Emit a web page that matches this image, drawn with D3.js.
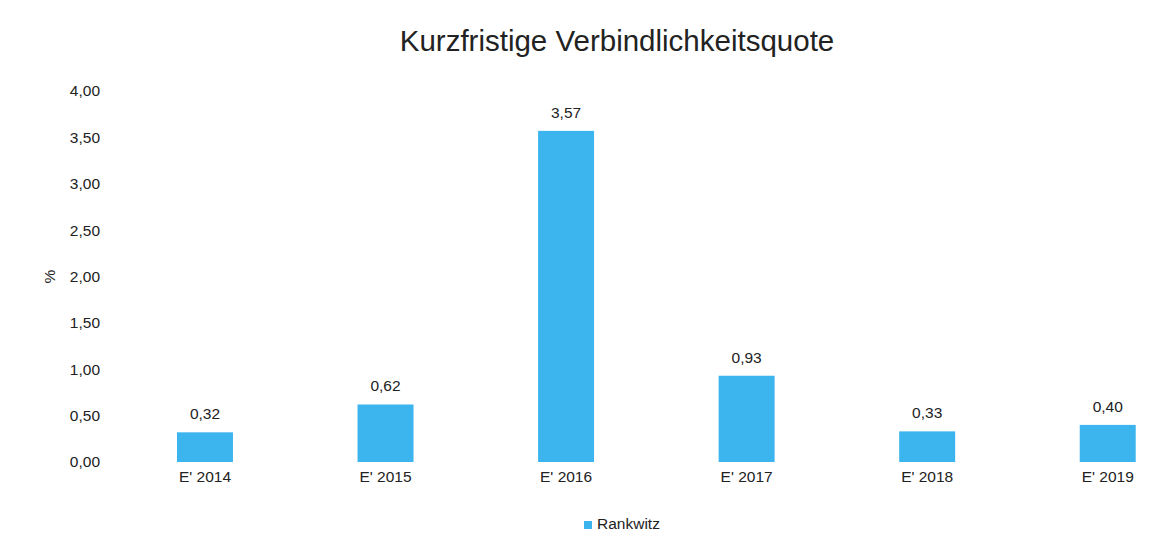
<!DOCTYPE html>
<html>
<head>
<meta charset="utf-8">
<script src="https://cdn.jsdelivr.net/npm/d3@7"></script>
<style>
  body { margin: 0; background: #fff; }
  svg text { font-family: Arial, "Liberation Sans", Helvetica, sans-serif; fill: #222; }
</style>
</head>
<body>
<div id="chart"></div>
<script>
var categories = ["E' 2014", "E' 2015", "E' 2016", "E' 2017", "E' 2018", "E' 2019"];
var values = [0.32, 0.62, 3.57, 0.93, 0.33, 0.40];
var yTicks = [0, 0.5, 1, 1.5, 2, 2.5, 3, 3.5, 4];
var seriesName = "Rankwitz";
var title = "Kurzfristige Verbindlichkeitsquote";

var width = 1168, height = 535,
    barColor = "#3cb4ee";

var fmt = function(d) { return d.toFixed(2).replace(".", ","); };

var svg = d3.select("#chart").append("svg")
    .attr("width", width)
    .attr("height", height);

var x = d3.scaleBand()
    .domain(categories)
    .range([114.7, 1198])
    .paddingInner(0.69)
    .paddingOuter(0.345);

var y = d3.scaleLinear().domain([0, 4]).range([462, 91]);

svg.append("text")
    .attr("x", 617)
    .attr("y", 51)
    .attr("text-anchor", "middle")
    .style("font-size", "29.5px")
    .text(title);

// y axis labels
var yAxis = svg.append("g")
    .attr("transform", "translate(108,0)")
    .call(d3.axisLeft(y).tickValues(yTicks).tickFormat(fmt).tickSize(0).tickPadding(8));
yAxis.select(".domain").remove();
yAxis.selectAll("text").style("font-size", "15.5px").attr("fill", "#222");

svg.append("text")
    .attr("transform", "translate(50," + y(2) + ") rotate(-90)")
    .attr("text-anchor", "middle")
    .attr("dy", "0.35em")
    .style("font-size", "15.5px")
    .text("%");

// x axis labels
var xAxis = svg.append("g")
    .attr("transform", "translate(0," + y(0) + ")")
    .call(d3.axisBottom(x).tickSize(0).tickPadding(9));
xAxis.select(".domain").remove();
xAxis.selectAll("text").style("font-size", "15.5px").attr("fill", "#222");

svg.selectAll(".bar")
  .data(values)
  .enter().append("rect")
    .attr("class", "bar")
    .attr("x", function(d, i) { return x(categories[i]); })
    .attr("y", function(d) { return y(d); })
    .attr("width", x.bandwidth())
    .attr("height", function(d) { return y(0) - y(d); })
    .attr("fill", barColor);

svg.selectAll(".val")
  .data(values)
  .enter().append("text")
    .attr("class", "val")
    .attr("x", function(d, i) { return x(categories[i]) + x.bandwidth() / 2; })
    .attr("y", function(d) { return y(d) - 13; })
    .attr("text-anchor", "middle")
    .style("font-size", "15.5px")
    .text(fmt);

// legend
var lg = svg.append("g").attr("transform", "translate(584,521)");
lg.append("rect").attr("width", 8).attr("height", 8).attr("fill", barColor);
lg.append("text")
    .attr("x", 13)
    .attr("y", 8)
    .style("font-size", "15.5px")
    .text(seriesName);
</script>
</body>
</html>
